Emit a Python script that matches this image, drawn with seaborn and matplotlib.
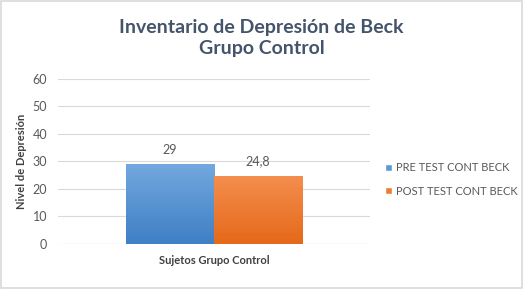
import matplotlib
matplotlib.use("Agg")
import matplotlib.pyplot as plt
import seaborn as sns
import numpy as np
import pandas as pd
from matplotlib.colors import LinearSegmentedColormap
from matplotlib.patches import Rectangle

categories = ["Sujetos Grupo Control"]
series = ["PRE TEST CONT BECK", "POST TEST CONT BECK"]
values = [29, 24.8]
value_labels = ["29", "24,8"]
yticks = [0, 10, 20, 30, 40, 50, 60]

df = pd.DataFrame({"cat": categories * len(series), "serie": series, "val": values})

sns.set_theme(style="white")
plt.rcParams['font.family'] = ['Lato', 'DejaVu Sans']

fig = plt.figure(figsize=(5.24, 2.89), dpi=100)
ax = fig.add_axes([0.111, 0.156, 0.595, 0.571])

palette = {"PRE TEST CONT BECK": "#5B9BD5", "POST TEST CONT BECK": "#ED7D31"}
sns.barplot(data=df, x="cat", y="val", hue="serie", palette=palette, width=0.565,
            saturation=1, ax=ax, legend=True, errorbar=None)

grads = [("#72A8DE", "#3F7FC5"), ("#F48E4E", "#E5691A")]
for p, (top, bot) in zip(ax.patches[:2], grads):
    x0, y0 = p.get_x(), p.get_y()
    w, h = p.get_width(), p.get_height()
    cmap = LinearSegmentedColormap.from_list("g", [bot, top])
    grad = np.linspace(0, 1, 100).reshape(-1, 1)
    im = ax.imshow(grad, cmap=cmap, aspect="auto", origin="lower",
                   extent=[x0, x0 + w, y0, y0 + h], zorder=p.get_zorder() + 0.1)
    im.set_clip_path(p)

for p, lab in zip(ax.patches[:2], value_labels):
    ax.text(p.get_x() + p.get_width() / 2, p.get_height() + 3.0, lab,
            ha="center", va="bottom", fontsize=9, color="#595959", zorder=5)

ax.set_xlim(-0.5, 0.5)
ax.set_ylim(0, 60)
ax.set_yticks(yticks)
ax.set_yticklabels([str(t) for t in yticks], fontsize=9, color="#595959")
ax.yaxis.grid(True, color="#D9D9D9", linewidth=0.8)
ax.set_axisbelow(True)
for s in ax.spines.values():
    s.set_visible(False)
ax.tick_params(axis="y", length=0, pad=8)
ax.tick_params(axis="x", length=0, pad=8)
ax.set_xticklabels(categories, fontsize=8, fontweight="bold", color="#404040")
ax.set_xlabel("")
ax.set_ylabel("Nivel de Depresión", fontsize=8, fontweight="bold", color="#404040", labelpad=4)

ax.axhline(0, color="#D9D9D9", linewidth=0.8, zorder=0.5)

leg = ax.legend(loc="center left", bbox_to_anchor=(1.035, 0.39), frameon=False,
                fontsize=8, handlelength=0.6, handleheight=0.6, labelspacing=1.1,
                handletextpad=0.4, borderaxespad=0)
for t in leg.get_texts():
    t.set_color("#595959")

fig.text(0.499, 0.868, "Inventario de Depresión de Beck\nGrupo Control", ha="center", va="center",
         fontsize=14, fontweight="bold", color="#44546A", linespacing=1.3)

fig.patches.append(Rectangle((0.002, 0.003), 0.995, 0.993, transform=fig.transFigure,
                             fill=False, edgecolor="#D9D9D9", linewidth=1.2))

fig.savefig("out.png", dpi=100)
